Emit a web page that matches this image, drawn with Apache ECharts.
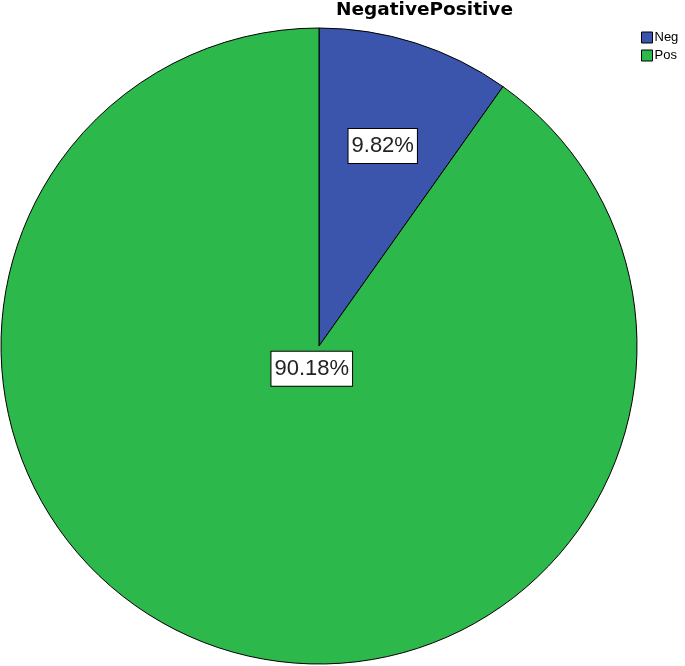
<!DOCTYPE html>
<html>
<head>
<meta charset="utf-8">
<script src="https://cdn.jsdelivr.net/npm/echarts@6/dist/echarts.min.js"></script>
<style>
    html, body { margin: 0; padding: 0; background: #fff; }
    #chart { width: 685px; height: 666px; }
</style>
</head>
<body>
<div id="chart"></div>
<script>
// data
const categories = ['Neg', 'Pos']
const percents = [9.82, 90.18]
const colors = ['#3b55ac', '#2db84b']

// pie geometry
const cx = 319,
    cy = 346,
    radius = 318
// how far out each label sits, as part of the radius
const labelRatio = [0.66, 0.075]

const myChart = echarts.init(document.getElementById('chart'))

const option = {
    animation: false,
    title: {
        text: 'NegativePositive',
        left: 336,
        top: 1,
        padding: 0,
        textStyle: {
            fontFamily: 'DejaVu Sans, Verdana',
            fontSize: 18.5,
            fontWeight: 'bold',
            color: '#000',
        },
    },
    legend: {
        orient: 'vertical',
        left: 641,
        top: 31,
        padding: 0,
        itemWidth: 11,
        itemHeight: 11,
        itemGap: 5,
        icon: 'rect',
        data: categories,
        textStyle: {
            fontFamily: 'Liberation Sans, Arial',
            fontSize: 13,
            color: '#000',
            padding: [0, 0, 0, -3],
        },
        itemStyle: { borderColor: '#000', borderWidth: 1 },
    },
    series: [
        {
            type: 'pie',
            center: [cx, cy],
            radius: [0, radius],
            startAngle: 90,
            clockwise: true,
            avoidLabelOverlap: false,
            emphasis: { disabled: true },
            itemStyle: { borderColor: '#000', borderWidth: 1 },
            label: {
                show: true,
                position: 'inside',
                formatter: (p) => `${p.value.toFixed(2)}%`,
                fontFamily: 'Liberation Sans, Arial',
                fontSize: 22,
                lineHeight: 24,
                color: '#222',
                backgroundColor: '#fff',
                borderColor: '#000',
                borderWidth: 1,
                padding: [5, 3, 5, 3],
            },
            labelLayout: (params) => {
                const r = params.labelRect
                const lx = r.x + r.width / 2,
                    ly = r.y + r.height / 2
                const k = (labelRatio[params.dataIndex] * radius) / Math.hypot(lx - cx, ly - cy)
                return { dx: (lx - cx) * (k - 1), dy: (ly - cy) * (k - 1) }
            },
            data: categories.map((name, i) => ({
                name: name,
                value: percents[i],
                itemStyle: { color: colors[i] },
            })),
        },
    ],
}

myChart.setOption(option)
</script>
</body>
</html>
